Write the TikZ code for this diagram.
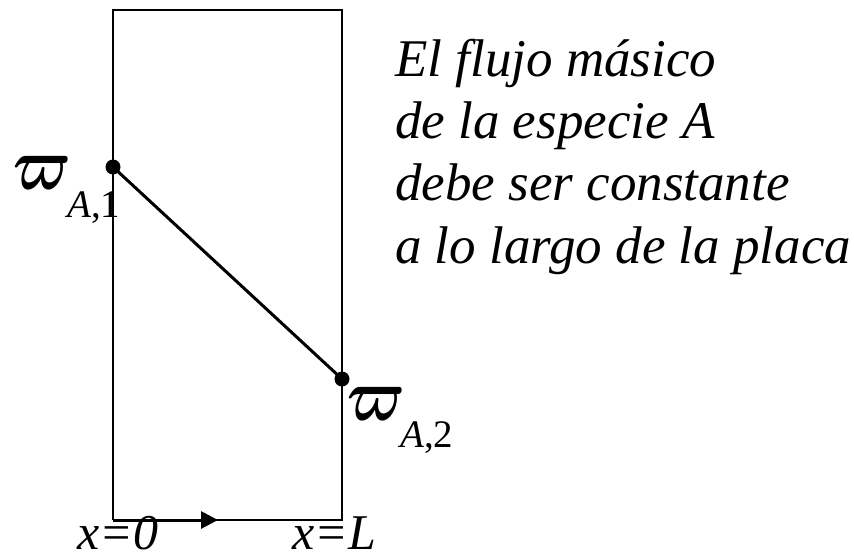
\documentclass[tikz,border=0pt]{standalone}
\usepackage{graphicx}
\usepackage{fontspec}
\setmainfont{Liberation Serif}
\usetikzlibrary{arrows.meta}
\newcommand{\fraccion}{\scalebox{2.3}[3.0]{\Huge\boldmath$\varpi$}}
\tikzset{
  plate/.style={line width=1.5pt},
  profile/.style={line width=3pt},
  dot/.style={circle, fill, inner sep=0pt, minimum size=15pt},
  bigw/.style={inner sep=0pt, anchor=base west},
  subw/.style={inner sep=0pt, anchor=base west, font=\fontsize{39}{39}\selectfont},
  note/.style={inner sep=0pt, anchor=base west, font=\fontsize{53}{53}\selectfont\itshape},
}
\begin{document}
\begin{tikzpicture}[x=1pt, y=-1pt]
    \useasboundingbox (0,0) rectangle (854,556);
    % the plate
    \coordinate (tl) at (113,10);
    \coordinate (tr) at (342,10);
    \coordinate (bl) at (113,520);
    \coordinate (br) at (342,520);
    \coordinate (mid) at (218,520);
    \draw[plate] (bl) -- (tl) -- (tr) -- (br) -- (bl);
    \draw[profile, -{Triangle[length=17pt, width=17pt]}] (bl) -- (mid);

    % end values
    \node[dot] (p1) at (113,167) {};
    \node[dot] (p2) at (342,379) {};
    \draw[profile] (p1.center) -- (p2.center);

    \node[bigw] (w1) at (13,190) {\fraccion};
    \node[subw] (s1) at (67,218) {\textit{A},1};
    \node[bigw] (w2) at (347,420) {\fraccion};
    \node[subw] (s2) at (400,447) {\textit{A},2};

    % positions
    \node[note, font=\fontsize{50}{50}\selectfont\itshape] (x0) at (77,549) {x=0};
    \node[note, font=\fontsize{50}{50}\selectfont\itshape] (xL) at (292,549) {x=L};

    % remark
    \node[note] (n1) at (395,77) {El flujo másico};
    \node[note] (n2) at (395,139) {de la especie A};
    \node[note] (n3) at (395,201) {debe ser constante};
    \node[note] (n4) at (395,263) {a lo largo de la placa};
\end{tikzpicture}
\end{document}
